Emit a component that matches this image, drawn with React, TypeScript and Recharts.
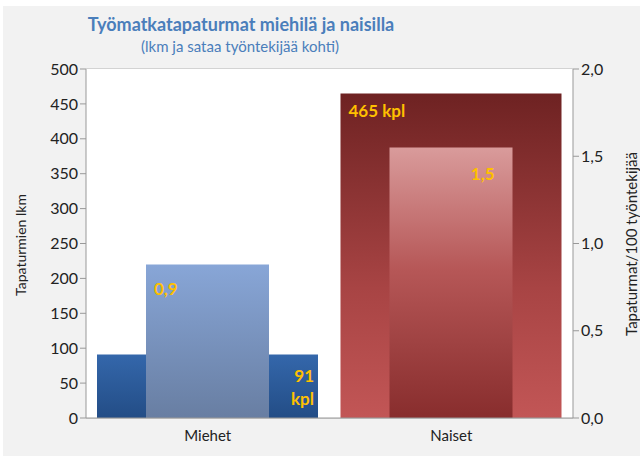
import { BarChart, Bar, XAxis, YAxis, CartesianGrid, Cell } from 'recharts';

const categories = ['Miehet', 'Naiset'];
const counts = [91, 465];
const rates = [0.88, 1.55];
const countLabels = [['91', 'kpl'], ['465 kpl']];
const rateLabels = ['0,9', '1,5'];
const leftTicks = [0, 50, 100, 150, 200, 250, 300, 350, 400, 450, 500];
const rightTicks = [0, 0.5, 1, 1.5, 2];

const data = categories.map((name, i) => ({ name, count: counts[i], rate: rates[i] }));

const FONT = 'Lato, "Liberation Sans", sans-serif';
const GOLD = '#ffc000';

const countLabel = (p: any) => {
  const { x, y, width, height, index } = p;
  const lines = countLabels[index];
  if (index === 0) {
    // stacked bottom-right inside the bar
    return (
      <text x={x + width - 4} y={y + height - 36} textAnchor="end" fill={GOLD} fontSize={17} fontWeight="bold" fontFamily={FONT}>
        {lines.map((l, k) => (
          <tspan key={k} x={x + width - 4} dy={k === 0 ? 0 : 23}>{l}</tspan>
        ))}
      </text>
    );
  }
  return (
    <text x={x + 8} y={y + 24} fill={GOLD} fontSize={17} fontWeight="bold" fontFamily={FONT}>
      {lines[0]}
    </text>
  );
};

const rateLabel = (p: any) => {
  const { x, y, width, index } = p;
  if (index === 0) {
    return (
      <text x={x + 8} y={y + 31} fill={GOLD} fontSize={17} fontWeight="bold" fontFamily={FONT}>
        {rateLabels[index]}
      </text>
    );
  }
  return (
    <text x={x + width - 18} y={y + 32} textAnchor="end" fill={GOLD} fontSize={17} fontWeight="bold" fontFamily={FONT}>
      {rateLabels[index]}
    </text>
  );
};

const wideFills = ['url(#mWide)', 'url(#nWide)'];
const narrowFills = ['url(#mNarrow)', 'url(#nNarrow)'];

export default function App() {
  return (
    <div style={{ position: 'absolute', left: 0, top: 0, width: 640, height: 456, background: '#fff', fontFamily: FONT }}>
      <div style={{ position: 'absolute', left: 3, top: 6, width: 637, height: 450, background: '#f2f2f2' }} />
      <div style={{ position: 'absolute', left: 0, top: 13, width: 482, textAlign: 'center', color: '#4a7ebb', fontWeight: 'bold', fontSize: 18 }}>
        Työmatkatapaturmat miehilä ja naisilla
      </div>
      <div style={{ position: 'absolute', left: 0, top: 37, width: 480, textAlign: 'center', color: '#4a7ebb', fontSize: 15 }}>
        (lkm ja sataa työntekijää kohti)
      </div>
      <div style={{ position: 'absolute', left: 0, top: 0 }}>
        <BarChart width={640} height={456} data={data} margin={{ top: 69, right: 0, bottom: 8, left: 0 }} barGap={0}>
          <defs>
            <linearGradient id="mWide" x1="0" y1="0" x2="0" y2="1">
              <stop offset="0%" stopColor="#3467ab" />
              <stop offset="100%" stopColor="#234d86" />
            </linearGradient>
            <linearGradient id="mNarrow" x1="0" y1="0" x2="0" y2="1">
              <stop offset="0%" stopColor="#88a6d7" />
              <stop offset="100%" stopColor="#687ea2" />
            </linearGradient>
            <linearGradient id="nWide" x1="0" y1="0" x2="0" y2="1">
              <stop offset="0%" stopColor="#6e2222" />
              <stop offset="60%" stopColor="#a84444" />
              <stop offset="100%" stopColor="#c25656" />
            </linearGradient>
            <linearGradient id="nNarrow" x1="0" y1="0" x2="0" y2="1">
              <stop offset="0%" stopColor="#d99b9b" />
              <stop offset="45%" stopColor="#b65757" />
              <stop offset="100%" stopColor="#882d2d" />
            </linearGradient>
          </defs>
          <rect x={86} y={69} width={487} height={349} fill="#fff" />
          <CartesianGrid yAxisId="left" xAxisId="wide" vertical={false} stroke="#b4b4b4" />
          <XAxis xAxisId="wide" dataKey="name" height={30} stroke="#999" tickLine={false}
            tick={{ fill: '#222', fontSize: 15, fontFamily: FONT }} tickMargin={6} />
          <XAxis xAxisId="narrow" dataKey="name" orientation="top" height={0} hide />
          <YAxis yAxisId="left" width={86} domain={[0, 500]} ticks={leftTicks} interval={0} stroke="#999" tickSize={6}
            tick={{ fill: '#222', fontSize: 16, fontFamily: FONT }} />
          <YAxis yAxisId="right" orientation="right" width={67} domain={[0, 2]} ticks={rightTicks} interval={0} stroke="#999" tickSize={6}
            tickFormatter={(v: number) => v.toFixed(1).replace('.', ',')}
            tick={{ fill: '#222', fontSize: 16, fontFamily: FONT }} />
          <Bar xAxisId="wide" yAxisId="left" dataKey="count" barSize={221} isAnimationActive={false} label={countLabel}>
            {data.map((d, i) => <Cell key={d.name} fill={wideFills[i]} />)}
          </Bar>
          <Bar xAxisId="narrow" yAxisId="right" dataKey="rate" barSize={123} isAnimationActive={false} label={rateLabel}>
            {data.map((d, i) => <Cell key={d.name} fill={narrowFills[i]} />)}
          </Bar>
        </BarChart>
      </div>
      <div style={{ position: 'absolute', left: 20, top: 245, transform: 'translate(-50%, -50%) rotate(-90deg)', whiteSpace: 'nowrap', fontSize: 14, color: '#222' }}>
        Tapaturmien lkm
      </div>
      <div style={{ position: 'absolute', left: 631, top: 244, transform: 'translate(-50%, -50%) rotate(-90deg)', whiteSpace: 'nowrap', fontSize: 15, color: '#222' }}>
        Tapaturmat/100 työntekijää
      </div>
    </div>
  );
}
